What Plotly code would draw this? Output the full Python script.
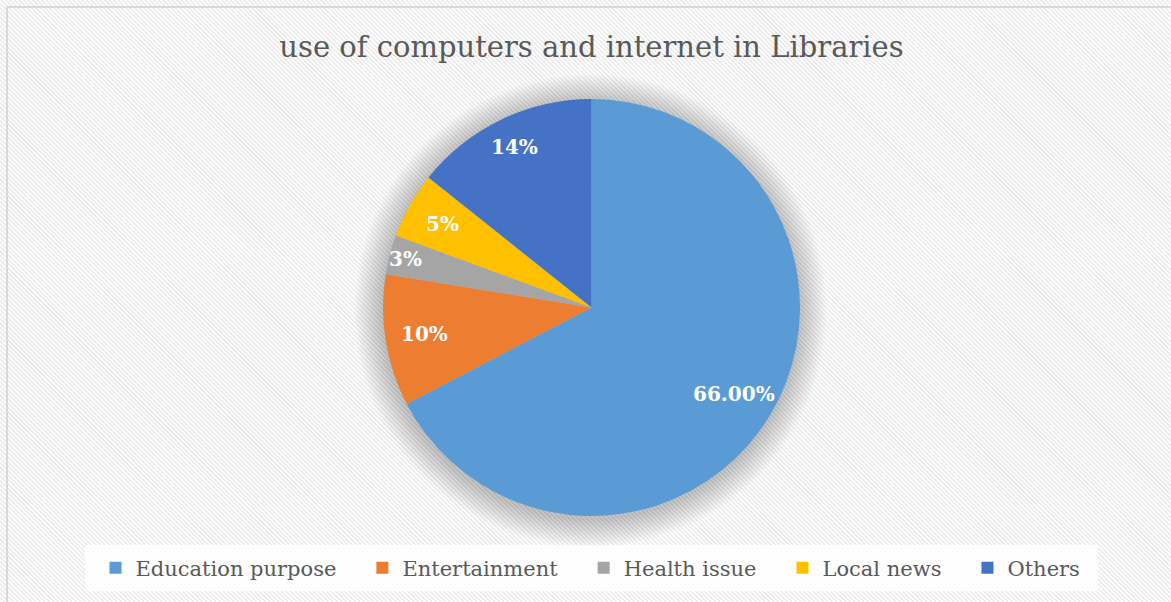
import math
import plotly.graph_objects as go

categories = ["Education purpose", "Entertainment", "Health issue", "Local news", "Others"]
values = [66, 10, 3, 5, 14]
label_text = ["66.00%", "10%", "3%", "5%", "14%"]
label_radius = [0.80, 0.81, 0.92, 0.82, 0.855]  # fraction of pie radius where labels sit
colors = ["#5B9BD5", "#ED7D31", "#A5A5A5", "#FFC000", "#4472C4"]

W, H = 1171, 602
SERIF = "DejaVu Serif"

# pie geometry (pixels)
cx, cy, r = 591.5, 307.5, 208.5

# legend entries get an em-space of trailing padding to widen the item gaps
legend_labels = [c + "\u2003" for c in categories]

fig = go.Figure()
fig.add_trace(go.Pie(
    labels=legend_labels, values=values, textinfo="none",
    marker=dict(colors=colors, line=dict(width=0)),
    sort=False, direction="clockwise", rotation=0,
    domain=dict(x=[(cx - r) / W, (cx + r) / W], y=[1 - (cy + r) / H, 1 - (cy - r) / H]),
    hoverinfo="label+value",
))

# data labels placed at the mid-angle of each slice
annotations = []
total = sum(values)
cum = 0
for v, t, fr in zip(values, label_text, label_radius):
    mid = (cum + v / 2) / total * 2 * math.pi
    cum += v
    px = cx + fr * r * math.sin(mid)
    py = cy - fr * r * math.cos(mid)
    annotations.append(dict(x=px / W, y=1 - py / H, xref="paper", yref="paper",
                            xanchor="center", yanchor="middle",
                            text=f"<b>{t}</b>", showarrow=False,
                            font=dict(family=SERIF, size=20, color="white")))

shapes = []
# diagonal hatch background
step = 4.5
k = -H
while k < W + H:
    shapes.append(dict(type="line", xref="paper", yref="paper", layer="below",
                       x0=k / W, y0=1, x1=(k + H) / W, y1=0,
                       line=dict(color="#ebebeb", width=1.6)))
    k += step
# chart border (left/top)
shapes.append(dict(type="line", xref="paper", yref="paper", layer="below",
                   x0=7 / W, x1=7 / W, y0=0, y1=1 - 7 / H, line=dict(color="#d9d9d9", width=2)))
shapes.append(dict(type="line", xref="paper", yref="paper", layer="below",
                   x0=7 / W, x1=1, y0=1 - 7 / H, y1=1 - 7 / H, line=dict(color="#d9d9d9", width=2)))
# legend panel
shapes.append(dict(type="rect", xref="paper", yref="paper", layer="below",
                   x0=85 / W, x1=1098 / W, y0=1 - 591 / H, y1=1 - 545 / H,
                   fillcolor="rgba(255,255,255,0.85)", line=dict(width=0)))
# soft shadow around the pie
for i in range(28, 0, -1):
    rr = r + i * 1.0
    dx, dy = -1, 3
    shapes.append(dict(type="circle", xref="paper", yref="paper", layer="below",
                       x0=(cx + dx - rr) / W, x1=(cx + dx + rr) / W,
                       y0=1 - (cy + dy + rr) / H, y1=1 - (cy + dy - rr) / H,
                       fillcolor="rgba(110,110,110,0.012)", line=dict(width=0)))

fig.update_layout(
    width=W, height=H,
    margin=dict(l=0, r=0, t=0, b=0),
    paper_bgcolor="white", plot_bgcolor="white",
    shapes=shapes, annotations=annotations,
    title=dict(text="use of computers and internet in Libraries",
               font=dict(family=SERIF, size=29, color="#595959"),
               x=591.5 / W, xanchor="center", y=1 - 47 / H, yanchor="middle"),
    showlegend=True,
    legend=dict(orientation="h", x=601 / W, xanchor="center", y=1 - 568 / H, yanchor="middle",
                bgcolor="rgba(0,0,0,0)", font=dict(family=SERIF, size=21, color="#595959"),
                itemwidth=30, tracegroupgap=0, itemclick=False),
)

fig.write_html("out.html")
